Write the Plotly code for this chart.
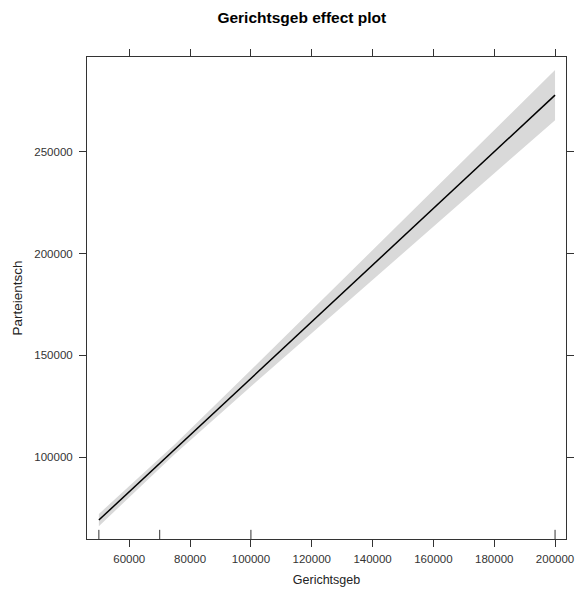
import plotly.graph_objects as go

# Data
gerichtsgeb = [50000, 75000, 100000, 125000, 150000, 175000, 200000]
fit = [69200, 104000, 138800, 173500, 208300, 243000, 277800]
lower = [66200, 101600, 134800, 167400, 200300, 232800, 265500]
upper = [72200, 106400, 142800, 179600, 216300, 253200, 290100]
rug_x = [50000, 70000, 100000, 200000]

x_ticks = [60000, 80000, 100000, 120000, 140000, 160000, 180000, 200000]
y_ticks = [100000, 150000, 200000, 250000]

FONT = "Liberation Sans, Arial"

fig = go.Figure()
fig.add_trace(go.Scatter(
    x=gerichtsgeb + gerichtsgeb[::-1],
    y=upper + lower[::-1],
    fill="toself", fillcolor="#d9d9d9", line=dict(width=0),
    mode="lines", hoverinfo="skip", showlegend=False))
fig.add_trace(go.Scatter(
    x=gerichtsgeb, y=fit, mode="lines",
    line=dict(color="black", width=1.5), showlegend=False))

for rx in rug_x:
    fig.add_shape(type="line", xref="x", yref="y domain",
                  x0=rx, x1=rx, y0=0, y1=0.019,
                  line=dict(color="#333333", width=1))

axis_common = dict(
    showgrid=False, zeroline=False, showline=True, linecolor="#333333",
    linewidth=1, mirror="ticks", ticks="outside", ticklen=7,
    tickcolor="#333333", tickwidth=1, automargin=False,
    tickfont=dict(family=FONT, size=11.5, color="#333333"),
)

fig.update_xaxes(range=[46100, 203600], tickvals=x_ticks,
                 ticktext=[str(v) for v in x_ticks], ticklabelstandoff=2,
                 title=dict(text="Gerichtsgeb", standoff=11,
                            font=dict(family=FONT, size=12.5, color="#222222")),
                 **axis_common)
fig.update_yaxes(range=[59900, 296500], tickvals=y_ticks,
                 ticktext=[str(v) for v in y_ticks], ticklabelstandoff=4,
                 title=dict(text="Parteientsch", standoff=8,
                            font=dict(family=FONT, size=13.5, color="#222222")),
                 **axis_common)

fig.update_layout(
    width=576, height=591,
    margin=dict(l=87, r=10, t=57, b=52),
    plot_bgcolor="white", paper_bgcolor="white",
    title=dict(text="<b>Gerichtsgeb effect plot</b>", x=0.524, xanchor="center",
               y=0.971, yanchor="middle", automargin=False,
               font=dict(family=FONT, size=15.5, color="black")),
)

fig.write_html("out.html", config={"displayModeBar": False},
               post_script="document.body.style.margin='0';")
